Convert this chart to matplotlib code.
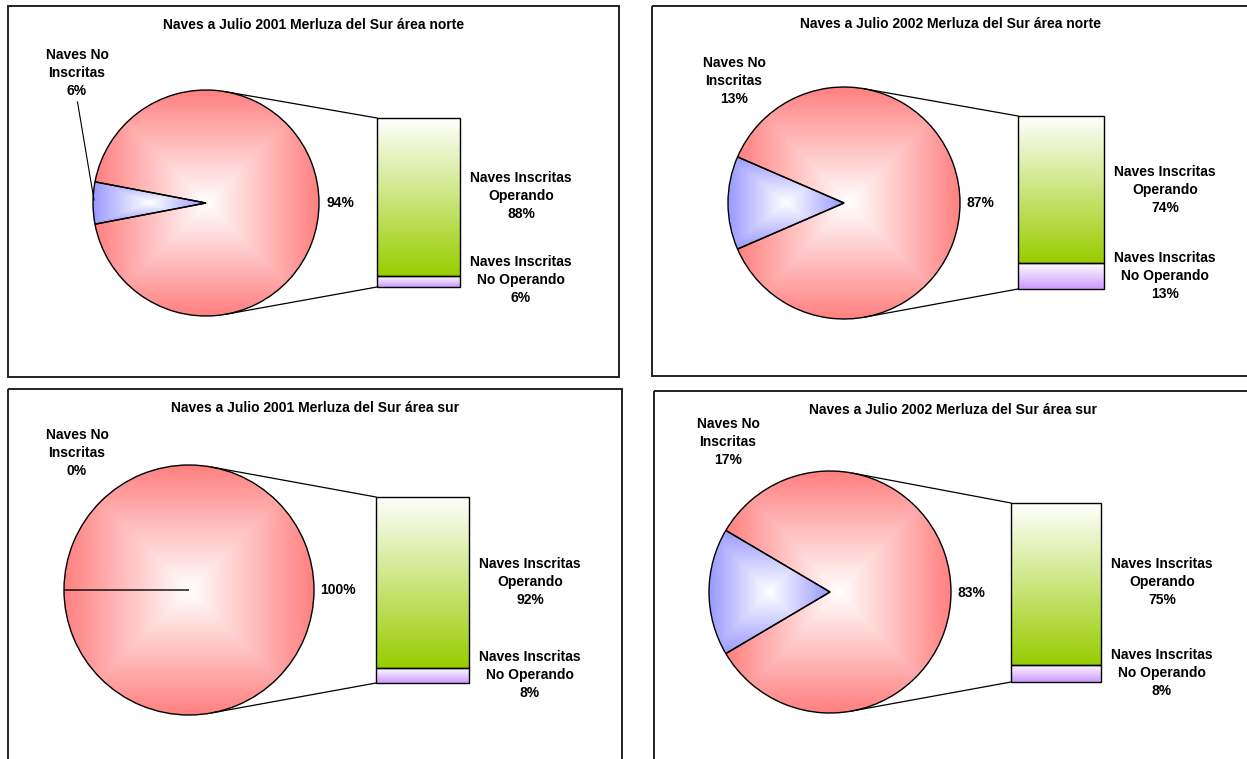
import numpy as np
import matplotlib
matplotlib.use("Agg")
import matplotlib.pyplot as plt
from matplotlib.colors import to_rgb
from matplotlib.patches import Rectangle

plt.rcParams['font.family'] = ['Liberation Sans', 'DejaVu Sans']

# ---------------- data ----------------
titles = ["Naves a Julio 2001 Merluza del Sur área norte",
          "Naves a Julio 2002 Merluza del Sur área norte",
          "Naves a Julio 2001 Merluza del Sur área sur",
          "Naves a Julio 2002 Merluza del Sur área sur"]
no_inscritas = [6, 13, 0, 17]       # pie slice (%)
inscritas = [94, 87, 100, 83]       # pie "other" slice (%)
operando = [88, 74, 92, 75]         # bar segment (%)
no_operando = [6, 13, 8, 8]         # bar segment (%)
label_no = "Naves No\nInscritas"
label_op = "Naves Inscritas\nOperando"
label_nop = "Naves Inscritas\nNo Operando"

# ---------------- layout (pixels, y from top) ----------------
W, H = 1247, 759
layout = [
    dict(box=(8, 6, 619, 377), title=(314, 25), pie=(206, 203, 113), bar=(377, 118, 460, 287),
         lab_no=(77, 73), lab_pct=(340, 203), lab_op=(521, 196), lab_nop=(521, 280),
         leader=((77.5, 102), (94, 200))),
    dict(box=(652, 6, 1262, 376), title=(951, 24), pie=(844, 203, 116), bar=(1018, 116, 1104, 289),
         lab_no=(734, 81), lab_pct=(980, 203), lab_op=(1165, 190), lab_nop=(1165, 276), leader=None),
    dict(box=(8, 389, 622, 775), title=(315, 408), pie=(189, 590, 125), bar=(376, 497, 469, 683),
         lab_no=(77, 453), lab_pct=(338, 590), lab_op=(530, 582), lab_nop=(530, 675), leader=None),
    dict(box=(654, 391, 1262, 775), title=(953, 410), pie=(830, 592, 121), bar=(1011, 503, 1101, 682),
         lab_no=(728, 442), lab_pct=(971, 593), lab_op=(1162, 582), lab_nop=(1162, 673), leader=None),
]

PINK = "#FF8080"
BLUE = "#9999FF"
GREEN = "#99CC00"
PURPLE = "#CC99FF"
FS = 10
LS = 1.36

fig = plt.figure(figsize=(W / 100, H / 100), dpi=100)
fig.patch.set_facecolor("white")
ax = fig.add_axes([0, 0, 1, 1])
ax.set_axis_off()


def square_gradient(axis, x0, x1, y0, y1, color, clip, n=400):
    s = np.linspace(-1, 1, n)
    X, Y = np.meshgrid(s, s)
    t = np.maximum(np.abs(X), np.abs(Y))[..., None]
    c = np.array(to_rgb(color))
    img = (1 - t) * np.ones(3) + t * c
    im = axis.imshow(img, extent=(x0, x1, y1, y0), origin="upper", aspect="auto",
                     interpolation="bilinear", zorder=0)
    im.set_clip_path(clip)


def vertical_gradient(axis, x0, x1, ybottom, ytop, color, clip, n=300):
    t = np.linspace(0, 1, n)[:, None, None] * np.ones((1, 2, 1))
    c = np.array(to_rgb(color))
    img = (1 - t) * np.ones(3) + t * c   # row 0 = top (white)
    im = axis.imshow(img, extent=(x0, x1, ybottom, ytop), origin="upper", aspect="auto",
                     interpolation="bilinear", zorder=0)
    im.set_clip_path(clip)


def wedge_extent(w):
    th = np.radians(np.linspace(w.theta1, w.theta2, 400))
    cx, cy = w.center
    xs = np.concatenate([[cx], cx + w.r * np.cos(th)])
    ys = np.concatenate([[cy], cy + w.r * np.sin(th)])
    return xs.min(), xs.max(), ys.min(), ys.max()


for i, L in enumerate(layout):
    # panel border
    bx0, by0, bx1, by1 = L["box"]
    ax.add_patch(Rectangle((bx0, by0), bx1 - bx0, by1 - by0, fill=False,
                           edgecolor="#222222", linewidth=1.4, zorder=5))
    # title
    ax.text(L["title"][0], L["title"][1], titles[i], ha="center", va="center",
            fontsize=FS, fontweight="bold")

    # pie
    cx, cy, r = L["pie"]
    frac_no = no_inscritas[i] / (no_inscritas[i] + inscritas[i])
    wedges, _ = ax.pie([no_inscritas[i], inscritas[i]], center=(cx, cy), radius=r,
                       startangle=180 - 180 * frac_no, counterclock=True,
                       wedgeprops=dict(facecolor="none", edgecolor="black", linewidth=1.0))
    for w, col in zip(wedges, [BLUE, PINK]):
        w.set_zorder(2)
        if w.theta2 - w.theta1 > 0:
            x0, x1, y0, y1 = wedge_extent(w)
            square_gradient(ax, x0, x1, y0, y1, col, w)

    # bar (stacked) in its own axes
    qx0, qy0, qx1, qy1 = L["bar"]
    bax = fig.add_axes([qx0 / W, 1 - qy1 / H, (qx1 - qx0) / W, (qy1 - qy0) / H])
    bax.set_axis_off()
    total = operando[i] + no_operando[i]
    bars = bax.bar([0, 0], [no_operando[i], operando[i]], bottom=[0, no_operando[i]],
                   width=1.0, facecolor="none", edgecolor="black", linewidth=1.0, zorder=2)
    for b, col in zip(bars, [PURPLE, GREEN]):
        b.set_clip_on(False)
        vertical_gradient(bax, b.get_x(), b.get_x() + b.get_width(),
                          b.get_y(), b.get_y() + b.get_height(), col, b)
    bax.set_xlim(-0.5, 0.5)
    bax.set_ylim(0, total)

    # connector lines: tangents from bar's left corners to the pie circle
    for (px, py), sgn in [((qx0, qy0), -1), ((qx0, qy1), 1)]:
        d = np.hypot(px - cx, py - cy)
        phi = np.arctan2(py - cy, px - cx)
        alpha = np.arccos(r / d)
        ang = phi + sgn * alpha
        tx, ty = cx + r * np.cos(ang), cy + r * np.sin(ang)
        ax.plot([tx, px], [ty, py], color="black", linewidth=0.9, zorder=3)

    # labels
    ax.text(*L["lab_no"], f"{label_no}\n{no_inscritas[i]}%", ha="center", va="center",
            fontsize=FS, fontweight="bold", linespacing=LS)
    ax.text(*L["lab_pct"], f"{inscritas[i]}%", ha="center", va="center",
            fontsize=FS, fontweight="bold")
    ax.text(*L["lab_op"], f"{label_op}\n{operando[i]}%", ha="center", va="center",
            fontsize=FS, fontweight="bold", linespacing=LS)
    ax.text(*L["lab_nop"], f"{label_nop}\n{no_operando[i]}%", ha="center", va="center",
            fontsize=FS, fontweight="bold", linespacing=LS)
    if L["leader"] is not None:
        (lx0, ly0), (lx1, ly1) = L["leader"]
        ax.plot([lx0, lx1], [ly0, ly1], color="black", linewidth=0.8, zorder=3)

ax.set_xlim(0, W)
ax.set_ylim(H, 0)
ax.set_aspect("auto")
ax.set_position([0, 0, 1, 1])

fig.savefig("out.png", dpi=100, facecolor="white")
